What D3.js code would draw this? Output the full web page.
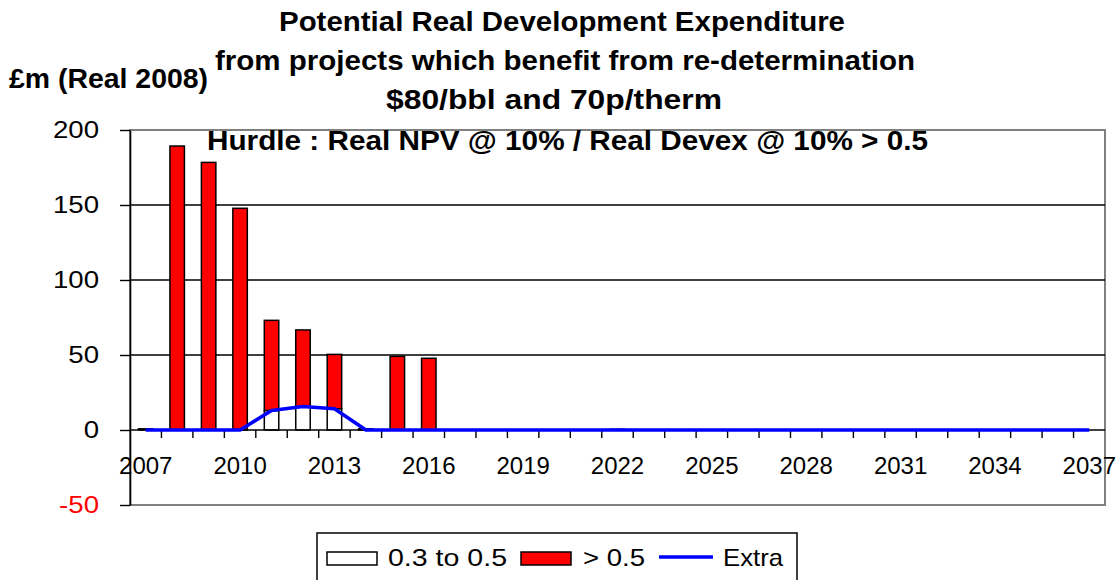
<!DOCTYPE html>
<html>
<head>
<meta charset="utf-8">
<script src="https://cdn.jsdelivr.net/npm/d3@7"></script>
<style>
  html, body { margin: 0; padding: 0; background: #fff; }
  svg { display: block; font-family: "Liberation Sans", Arial, sans-serif; }
</style>
</head>
<body>
<script>
// Potential real development expenditure (£m, real 2008) by year
const years = [2007, 2008, 2009, 2010, 2011, 2012, 2013, 2014, 2015, 2016,
               2017, 2018, 2019, 2020, 2021, 2022, 2023, 2024, 2025, 2026,
               2027, 2028, 2029, 2030, 2031, 2032, 2033, 2034, 2035, 2036, 2037];

// Projects with hurdle ratio 0.3 to 0.5
const band03to05 = [0.8, 0, 0, 0, 13, 15.6, 14.2, 0.8, 0, 0,
                    0, 0, 0, 0, 0, 0.5, 0, 0, 0, 0,
                    0, 0, 0, 0, 0, 0, 0, 0, 0, 0, 0];

// Projects with hurdle ratio above 0.5
const bandAbove05 = [0, 189.3, 178.4, 147.8, 60.1, 51.1, 36.2, 0, 49.1, 47.8,
                     0, 0, 0, 0, 0, 0, 0, 0, 0, 0,
                     0, 0, 0, 0, 0, 0, 0, 0, 0, 0, 0];

// Extra expenditure line
const extra = [0, 0, 0, 0, 13, 15.6, 14.2, 0, 0, 0,
               0, 0, 0, 0, 0, 0, 0, 0, 0, 0,
               0, 0, 0, 0, 0, 0, 0, 0, 0, 0, 0];

const yTicks = [-50, 0, 50, 100, 150, 200];
const xTickLabels = ["2007", "2010", "2013", "2016", "2019", "2022",
                     "2025", "2028", "2031", "2034", "2037"];

const seriesNames = ["0.3 to 0.5", "> 0.5", "Extra"];
const seriesColors = ["#ffffff", "#ff0000", "#0000ff"];

const W = 1120, H = 580;
const plot = { left: 130, right: 1105, top: 130, bottom: 505 };

const svg = d3.select("body").append("svg")
  .attr("width", W).attr("height", H);

const x = d3.scaleBand().domain(years).range([plot.left, plot.right]);
const y = d3.scaleLinear().domain([-50, 200]).range([plot.bottom, plot.top]);
const barW = x.bandwidth() * 0.46;

// Plot frame
svg.append("rect")
  .attr("x", plot.left).attr("y", plot.top)
  .attr("width", plot.right - plot.left).attr("height", plot.bottom - plot.top)
  .attr("fill", "#fff").attr("stroke", "#808080").attr("stroke-width", 2);

// Horizontal gridlines
svg.append("g").selectAll("line")
  .data(yTicks.filter(v => v > 0 && v < 200))
  .join("line")
  .attr("x1", plot.left).attr("x2", plot.right)
  .attr("y1", d => y(d)).attr("y2", d => y(d))
  .attr("stroke", "#000").attr("stroke-width", 1.6);

// Y axis
const yAxis = svg.append("g")
  .attr("transform", `translate(${plot.left},0)`)
  .call(d3.axisLeft(y).tickValues(yTicks).tickFormat(d => String(d))
    .tickSize(10).tickSizeOuter(0).tickPadding(21));
yAxis.select(".domain").attr("stroke", "#000").attr("stroke-width", 1.6);
yAxis.selectAll(".tick line").attr("stroke", "#000").attr("stroke-width", 1.4);
yAxis.selectAll(".tick text")
  .attr("font-size", 24)
  .attr("font-family", "'Liberation Sans', Arial, sans-serif")
  .attr("fill", d => d < 0 ? "#ff0000" : "#000")
  .each(function () {
    d3.select(this).attr("textLength", this.getComputedTextLength() * 1.15)
      .attr("lengthAdjust", "spacingAndGlyphs");
  });

// Stacked bars
const table = years.map((yr, i) => ({
  year: yr,
  [seriesNames[0]]: band03to05[i],
  [seriesNames[1]]: bandAbove05[i]
}));
const stacked = d3.stack().keys([seriesNames[0], seriesNames[1]])(table);

svg.append("g").selectAll("g")
  .data(stacked)
  .join("g")
  .attr("fill", (d, i) => seriesColors[i])
  .selectAll("rect")
  .data(d => d.filter(p => p[1] - p[0] > 0))
  .join("rect")
  .attr("x", d => x(d.data.year) + (x.bandwidth() - barW) / 2)
  .attr("width", barW)
  .attr("y", d => y(d[1]))
  .attr("height", d => y(d[0]) - y(d[1]))
  .attr("stroke", "#000").attr("stroke-width", 1.5);

// X axis line at zero
svg.append("line")
  .attr("x1", plot.left).attr("x2", plot.right)
  .attr("y1", y(0)).attr("y2", y(0))
  .attr("stroke", "#000").attr("stroke-width", 1.6);

// Tick marks between categories
svg.append("g").selectAll("line")
  .data(years.slice(1))
  .join("line")
  .attr("x1", d => x(d)).attr("x2", d => x(d))
  .attr("y1", y(0)).attr("y2", y(0) + 8)
  .attr("stroke", "#000").attr("stroke-width", 1.4);

// Category labels every three years
const xAxis = svg.append("g")
  .attr("transform", `translate(0,${y(0)})`)
  .call(d3.axisBottom(x).tickValues(xTickLabels.map(Number)).tickSize(0).tickPadding(27));
xAxis.select(".domain").remove();
xAxis.selectAll(".tick text")
  .attr("font-size", 24)
  .attr("font-family", "'Liberation Sans', Arial, sans-serif")
  .attr("fill", "#000");

// Extra line
svg.append("path")
  .datum(extra)
  .attr("fill", "none")
  .attr("stroke", seriesColors[2])
  .attr("stroke-width", 3.5)
  .attr("stroke-linejoin", "round")
  .attr("d", d3.line()
    .x((d, i) => x(years[i]) + x.bandwidth() / 2)
    .y(d => y(d)));

// Titles
const bold = "'Liberation Sans', Arial, sans-serif";
const titleLines = [
  { text: "Potential Real Development Expenditure", x: 279, y: 31, w: 566 },
  { text: "from projects which benefit from re-determination", x: 215, y: 70, w: 700 },
  { text: "$80/bbl and 70p/therm", x: 386, y: 109, w: 336 },
  { text: "£m (Real 2008)", x: 9, y: 88, w: 199 },
  { text: "Hurdle : Real NPV @ 10% / Real Devex @ 10% > 0.5", x: 207, y: 150, w: 721 }
];
svg.append("g").selectAll("text")
  .data(titleLines)
  .join("text")
  .attr("x", d => d.x).attr("y", d => d.y)
  .attr("font-family", bold)
  .attr("font-weight", "bold")
  .attr("font-size", 27)
  .attr("textLength", d => d.w)
  .attr("lengthAdjust", "spacingAndGlyphs")
  .text(d => d.text);

// Legend
const legend = svg.append("g");
legend.append("rect")
  .attr("x", 317).attr("y", 533).attr("width", 480).attr("height", 60)
  .attr("fill", "#fff").attr("stroke", "#000").attr("stroke-width", 1.5);

const legendItems = [
  { name: seriesNames[0], kind: "rect", color: seriesColors[0], kx: 327, tx: 388, tw: 119 },
  { name: seriesNames[1], kind: "rect", color: seriesColors[1], kx: 521, tx: 583, tw: 62 },
  { name: seriesNames[2], kind: "line", color: seriesColors[2], kx: 659, tx: 723, tw: 60 }
];
legendItems.forEach(it => {
  if (it.kind === "rect") {
    legend.append("rect")
      .attr("x", it.kx).attr("y", 552).attr("width", 50).attr("height", 13)
      .attr("fill", it.color).attr("stroke", "#000").attr("stroke-width", 1.5);
  } else {
    legend.append("line")
      .attr("x1", it.kx).attr("x2", it.kx + 54)
      .attr("y1", 557).attr("y2", 557)
      .attr("stroke", it.color).attr("stroke-width", 3.5);
  }
  legend.append("text")
    .attr("x", it.tx).attr("y", 566)
    .attr("font-size", 24)
    .attr("font-family", bold)
    .attr("textLength", it.tw)
    .attr("lengthAdjust", "spacingAndGlyphs")
    .text(it.name);
});
</script>
</body>
</html>
